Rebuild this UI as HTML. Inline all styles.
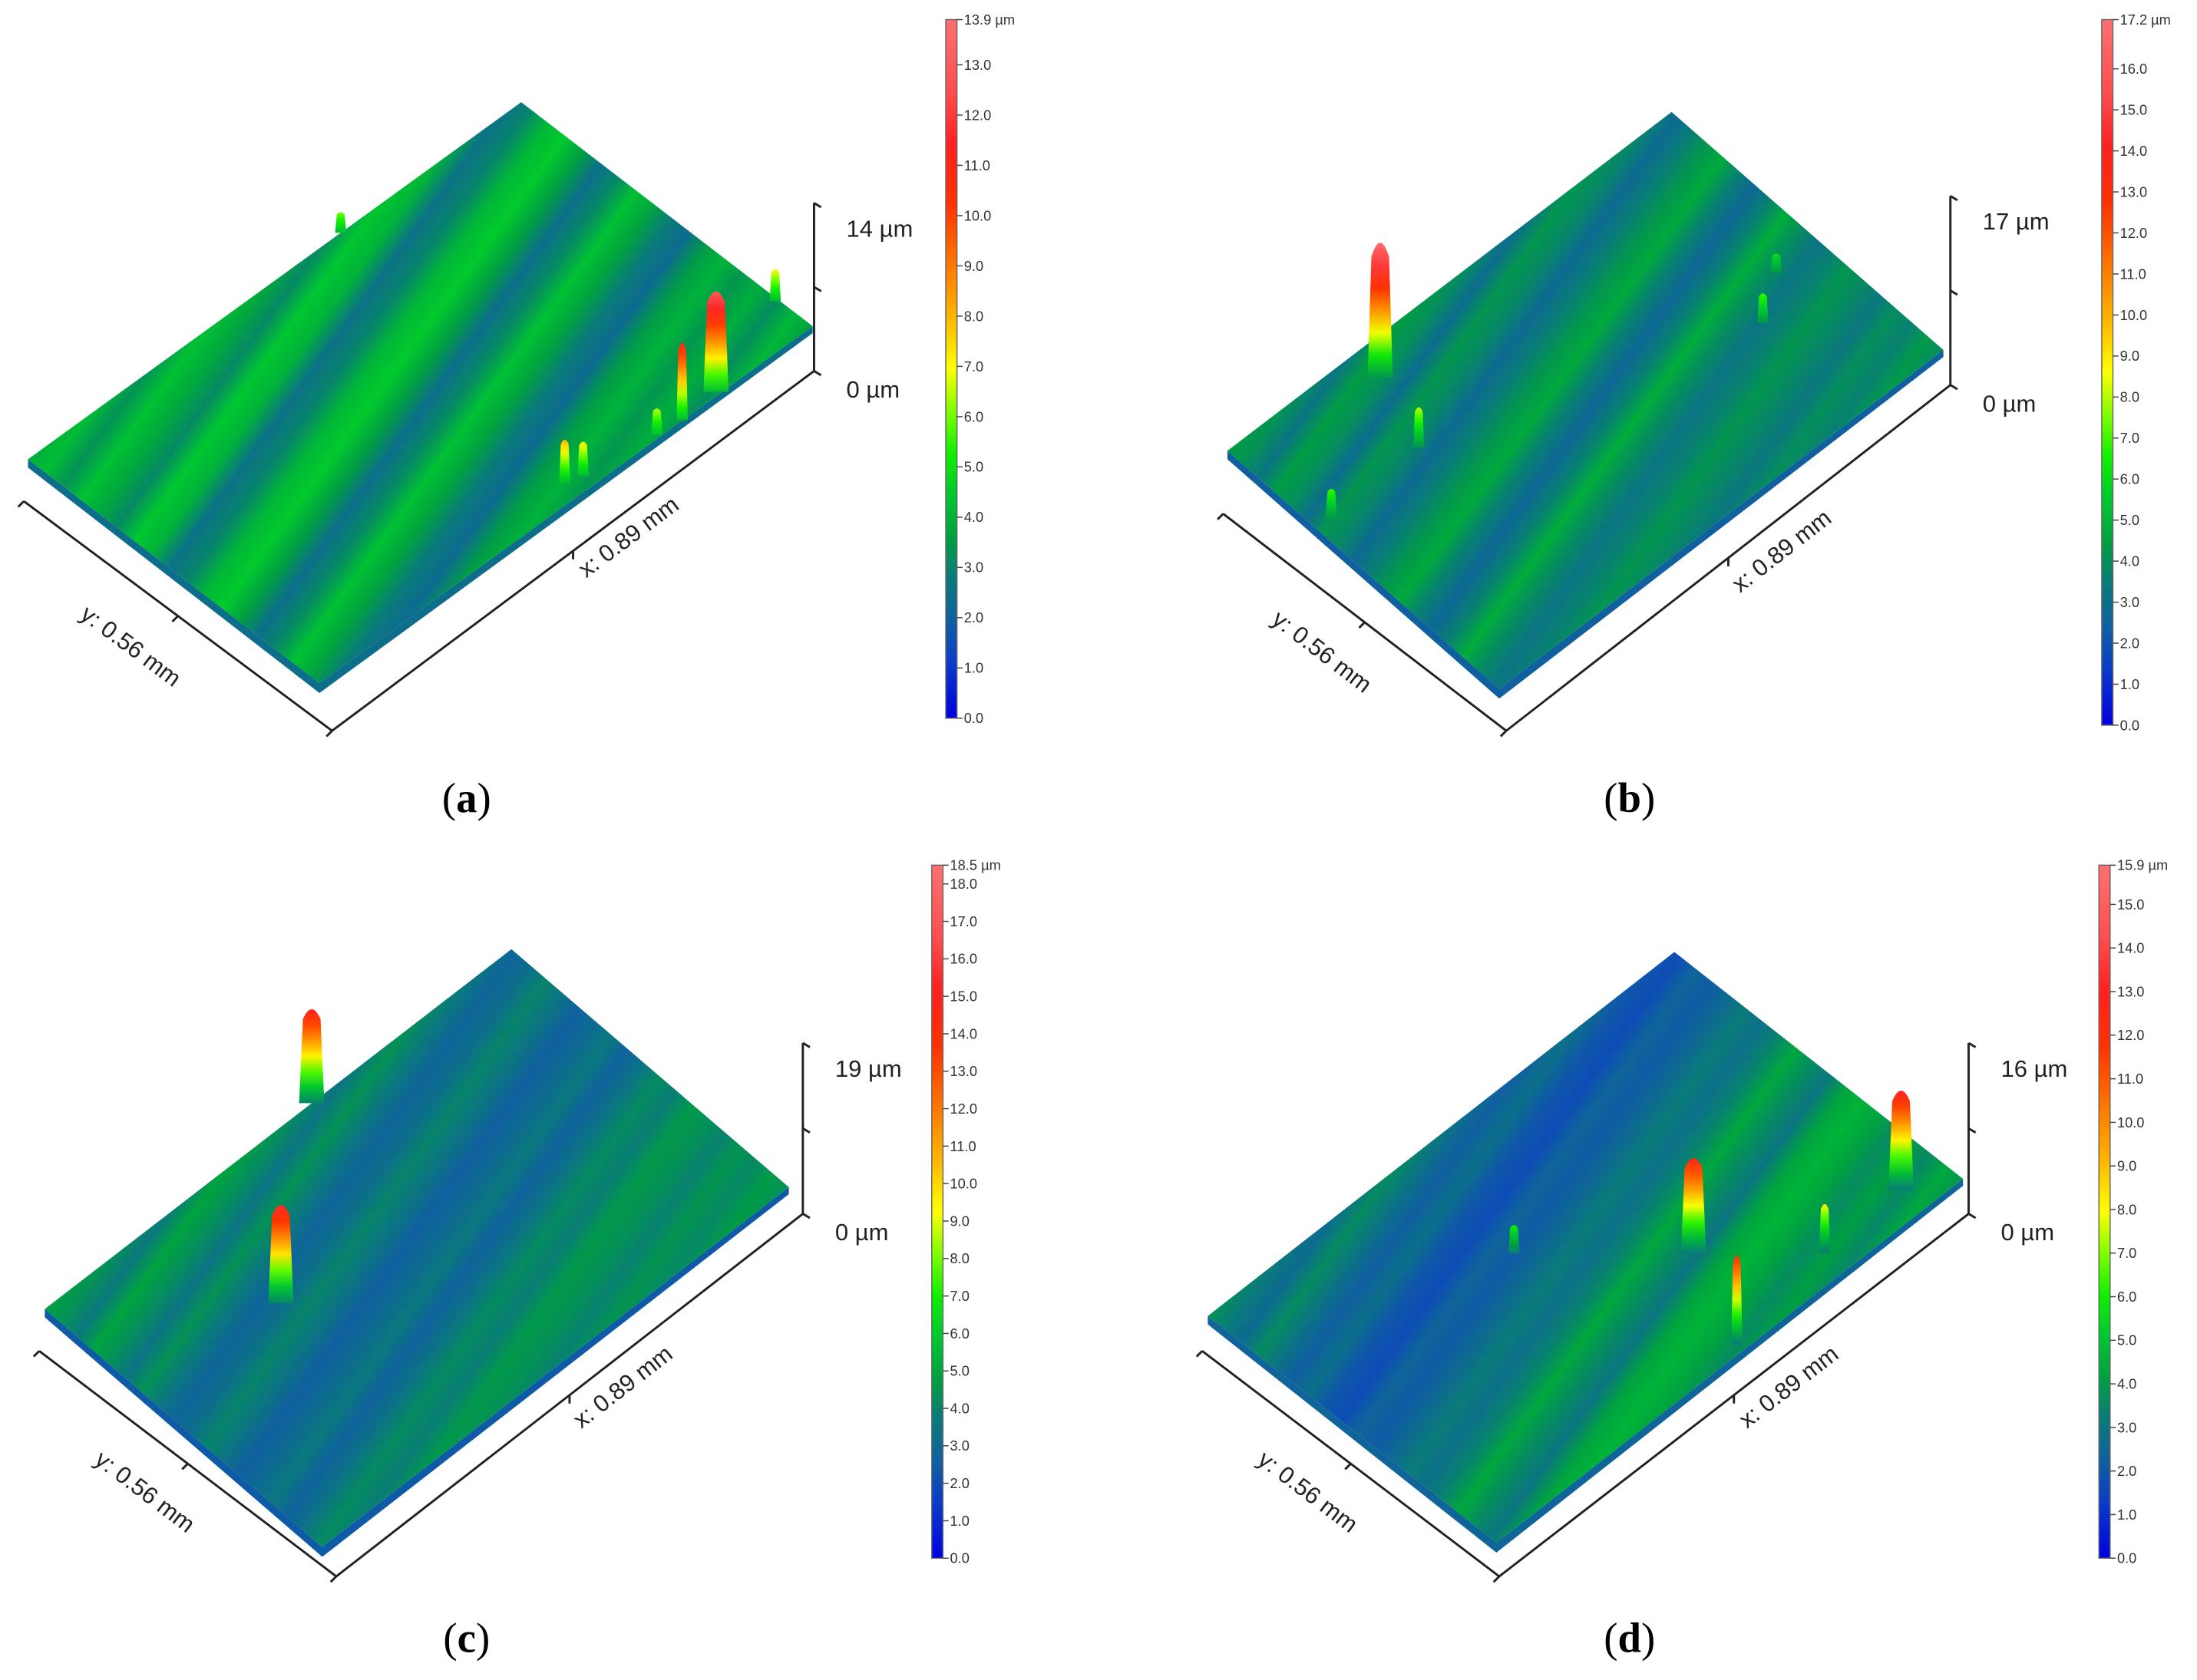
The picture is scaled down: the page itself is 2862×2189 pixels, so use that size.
<!DOCTYPE html>
<html><head><meta charset="utf-8"><style>
html,body{margin:0;padding:0;background:#fff;}
svg{display:block;}
text{font-family:"Liberation Sans",sans-serif;}
text.plabel{font-family:"Liberation Serif",serif;}
</style></head><body>
<svg id="fig" xmlns="http://www.w3.org/2000/svg" width="2862" height="2189" viewBox="0 0 1568 1200" preserveAspectRatio="none">
<defs id="defs"></defs>
</svg>
<script>
// ---- data ----
const panelLetters = ["a","b","c","d"];
const colorbarMax = [13.9, 17.2, 18.5, 15.9];
const zAxisMaxLabels = ["14 µm","17 µm","19 µm","16 µm"];
const zAxisMaxValues = [14, 17, 19, 16];
const tickValuesA = [0,1,2,3,4,5,6,7,8,9,10,11,12,13];
const tickValuesB = [0,1,2,3,4,5,6,7,8,9,10,11,12,13,14,15,16];
const tickValuesC = [0,1,2,3,4,5,6,7,8,9,10,11,12,13,14,15,16,17,18];
const tickValuesD = [0,1,2,3,4,5,6,7,8,9,10,11,12,13,14,15];
// stripe heights (µm) across the surface, perpendicular to grooves
const stripesA = [3.9,4.2,3.3,4.3,3.8,3.1,4.4,4.0,2.5,3.0,4.1,4.5,3.6,2.4,3.1,4.3,3.7,2.8,2.3,3.5,4.0,3.4,3.9,3.2,4.1,3.6];
const stripesB = [4.4,4.1,3.2,4.4,4.0,2.9,4.2,3.8,2.8,3.5,4.2,4.7,3.6,2.7,3.6,4.8,3.9,3.2,3.6,4.2,3.8,3.3,4.0,3.6,4.3,3.9];
const stripesC = [4.8,4.4,3.6,4.9,4.3,3.4,4.4,3.6,2.8,3.2,4.0,3.4,2.6,3.0,3.6,2.7,3.4,4.2,3.8,4.6,4.4,3.9,4.5,4.1,4.7,4.3];
const stripesD = [3.8,3.2,2.6,3.6,2.9,2.2,2.8,2.0,1.7,2.4,2.1,2.6,3.2,2.8,3.4,4.3,3.6,3.0,4.2,4.6,4.2,3.6,4.1,3.5,4.3,3.9];
// peaks: [u (along x), v (along y), peak height µm]
const peaksA = [[0.528,0.948,8],[0.557,0.962,7.2],[0.736,0.999,11],[0.81,0.99,13],[0.69,0.99,6.5],[0.995,0.88,7],[0.634,0.0,6]];
const peaksB = [[0.284,0.098,17],[0.235,0.32,8],[0.032,0.33,7],[0.82,0.63,7],[0.905,0.54,6]];
const peaksC = [[0.572,0.0,15],[0.274,0.39,15.5]];
const peaksD = [[0.608,0.70,12.6],[0.53,0.976,12],[0.918,0.918,13],[0.75,0.925,8],[0.415,0.39,6]];
const baseLevel = [4.2, 4.2, 4.0, 3.2];

// ---- layout (positions, not data) ----
const layout = [
 {L:[20,328],T:[372,73],B:[228,488], ax0:[17,358], ax1:[237,522], zx:581, zTop:145, zBot:265, cbx:675, cbTop:14, cbBot:513, lab:[333,570], ylab:[90,466], xlab:[452,388]},
 {L:[876,322],T:[1193,80],B:[1070,492], ax0:[873,367], ax1:[1075,522], zx:1392, zTop:140, zBot:275, cbx:1500, cbTop:14, cbBot:518, lab:[1163,570], ylab:[940,470], xlab:[1275,398]},
 {L:[32,935],T:[365,678],B:[230,1105], ax0:[28,965], ax1:[240,1126], zx:573, zTop:745, zBot:867, cbx:665, cbTop:618, cbBot:1113, lab:[333,1170], ylab:[100,1070], xlab:[448,995]},
 {L:[862,940],T:[1195,680],B:[1068,1102], ax0:[858,965], ax1:[1070,1126], zx:1405, zTop:745, zBot:867, cbx:1498, cbTop:618, cbBot:1113, lab:[1163,1170], ylab:[930,1070], xlab:[1280,995]}
];
const tickSets=[tickValuesA,tickValuesB,tickValuesC,tickValuesD];
const stripeSets=[stripesA,stripesB,stripesC,stripesD];
const peakSets=[peaksA,peaksB,peaksC,peaksD];

const cmapStops=[[0,"#0000e0"],[0.08,"#0a3cc8"],[0.14,"#1060a0"],[0.2,"#0a7a7a"],[0.26,"#00a040"],[0.32,"#00c830"],[0.38,"#10f000"],[0.44,"#80ff00"],[0.5,"#ffff00"],[0.58,"#ffb000"],[0.66,"#ff7000"],[0.74,"#ff3000"],[0.82,"#ff2020"],[0.9,"#ff5050"],[1,"#ff7070"]];
function hex(c){return [parseInt(c.substr(1,2),16),parseInt(c.substr(3,2),16),parseInt(c.substr(5,2),16)];}
function cmap(f){f=Math.max(0,Math.min(1,f));for(let i=1;i<cmapStops.length;i++){if(f<=cmapStops[i][0]){const a=cmapStops[i-1],b=cmapStops[i];const t=(f-a[0])/(b[0]-a[0]);const ca=hex(a[1]),cb=hex(b[1]);return "rgb("+ca.map((v,k)=>Math.round(v+(cb[k]-v)*t)).join(",")+")";}}return cmapStops[cmapStops.length-1][1];}

const NS="http://www.w3.org/2000/svg";
const svg=document.getElementById("fig");
const defs=document.getElementById("defs");
function mk(tag,attrs,parent){const e=document.createElementNS(NS,tag);for(const k in attrs)e.setAttribute(k,attrs[k]);(parent||svg).appendChild(e);return e;}

layout.forEach((g,p)=>{
 const max=colorbarMax[p];
 const grp=mk("g",{});
 
 
 const L=g.L,T=g.T,B=g.B,R=[T[0]+B[0]-L[0],T[1]+B[1]-L[1]];
 const map=(u,v)=>[L[0]+u*(T[0]-L[0])+v*(B[0]-L[0]), L[1]+u*(T[1]-L[1])+v*(B[1]-L[1])];
 const dir=[0.809,0.588];
 const proj=(P)=>(P[0]-L[0])*dir[0]+(P[1]-L[1])*dir[1];
 const lo=Math.min(0,proj(T),proj(B),proj(R)), hi=Math.max(proj(T),proj(B),proj(R));
 const gid="sg"+p;
 const lg=mk("linearGradient",{id:gid,gradientUnits:"userSpaceOnUse",x1:L[0]+lo*dir[0],y1:L[1]+lo*dir[1],x2:L[0]+hi*dir[0],y2:L[1]+hi*dir[1]},defs);
 const st=stripeSets[p];
 st.forEach((h,i)=>mk("stop",{offset:(i/(st.length-1)).toFixed(4),"stop-color":cmap(h/max)},lg));
 const wall=mk("polygon",{points:[L,B,R,[R[0],R[1]+5],[B[0],B[1]+7],[L[0],L[1]+6]].map(q=>q.join(",")).join(" "),fill:cmap(2.4/max)},grp);
 
 
 const surf=mk("polygon",{points:[L,T,R,B].map(q=>q.join(",")).join(" "),fill:"url(#"+gid+")"},grp);
 
 
 const zs=(g.zBot-g.zTop)/zAxisMaxValues[p];
 peakSets[p].forEach((pk,i)=>{
  const b=map(pk[0],pk[1]);
  const hpx=Math.max(0,(pk[2]-baseLevel[p])*zs);
  const w=pk[2]>12?9:4;
  const pid="pg"+p+"_"+i;
  const pg=mk("linearGradient",{id:pid,x1:0,y1:1,x2:0,y2:0},defs);
  for(let k=0;k<=6;k++){const lev=baseLevel[p]+(pk[2]-baseLevel[p])*k/6;mk("stop",{offset:(k/6).toFixed(3),"stop-color":cmap(lev/max)},pg);}
  const poly=mk("path",{d:`M${b[0]-w},${b[1]} L${b[0]-w*0.7},${b[1]-hpx*0.85} Q${b[0]},${b[1]-hpx*1.05} ${b[0]+w*0.7},${b[1]-hpx*0.85} L${b[0]+w},${b[1]} Z`,fill:"url(#"+pid+")"},grp);
  
  
 });
 const ax=mk("g",{stroke:"#222","stroke-width":1.6,fill:"none"},grp);
 
 
 const a0=g.ax0,a1=g.ax1,a2=[g.zx,g.zBot];
 mk("polyline",{points:[a0,a1,a2].map(q=>q.join(",")).join(" ")},ax);
 mk("line",{x1:g.zx,y1:g.zBot,x2:g.zx,y2:g.zTop},ax);
 [g.zTop,(g.zTop+g.zBot)/2,g.zBot].forEach(y=>mk("line",{x1:g.zx,y1:y,x2:g.zx+5,y2:y+3},ax));
 mk("line",{x1:a0[0],y1:a0[1],x2:a0[0]-4,y2:a0[1]+4},ax);
 const m1=[(a0[0]+a1[0])/2,(a0[1]+a1[1])/2];mk("line",{x1:m1[0],y1:m1[1],x2:m1[0]-4,y2:m1[1]+4},ax);
 mk("line",{x1:a1[0],y1:a1[1],x2:a1[0]-4,y2:a1[1]+4},ax);
 const m2=[(a1[0]+a2[0])/2,(a1[1]+a2[1])/2];mk("line",{x1:m2[0],y1:m2[1],x2:m2[0],y2:m2[1]+6},ax);
 const ang1=Math.atan2(a1[1]-a0[1],a1[0]-a0[0])*180/Math.PI;
 const ang2=Math.atan2(a2[1]-a1[1],a2[0]-a1[0])*180/Math.PI;
 const yl=mk("text",{x:g.ylab[0],y:g.ylab[1],"font-size":17,"text-anchor":"middle",fill:"#222",transform:`rotate(${ang1} ${g.ylab[0]} ${g.ylab[1]})`},grp);yl.textContent="y: 0.56 mm";
 
 const xl=mk("text",{x:g.xlab[0],y:g.xlab[1],"font-size":17,"text-anchor":"middle",fill:"#222",transform:`rotate(${ang2} ${g.xlab[0]} ${g.xlab[1]})`},grp);xl.textContent="x: 0.89 mm";
 
 const zt=mk("text",{x:g.zx+23,y:g.zTop+24,"font-size":17,fill:"#222"},grp);zt.textContent=zAxisMaxLabels[p];
 
 const zb=mk("text",{x:g.zx+23,y:g.zBot+19,"font-size":17,fill:"#222"},grp);zb.textContent="0 µm";
 
 const cid="cb"+p;
 const cg=mk("linearGradient",{id:cid,x1:0,y1:1,x2:0,y2:0},defs);
 cmapStops.forEach(s=>mk("stop",{offset:s[0],"stop-color":s[1]},cg));
 const cb=mk("rect",{x:g.cbx,y:g.cbTop,width:8,height:g.cbBot-g.cbTop,fill:"url(#"+cid+")",stroke:"#666","stroke-width":0.8},grp);
 
 const cy=v=>g.cbBot-v/max*(g.cbBot-g.cbTop);
 tickSets[p].forEach(v=>{
  mk("line",{x1:g.cbx+8,y1:cy(v),x2:g.cbx+12,y2:cy(v),stroke:"#444","stroke-width":0.8},grp);
  const t=mk("text",{x:g.cbx+13,y:cy(v)+3.5,"font-size":10,fill:"#333"},grp);t.textContent=v.toFixed(1);
  
 });
 mk("line",{x1:g.cbx+8,y1:g.cbTop,x2:g.cbx+12,y2:g.cbTop,stroke:"#444","stroke-width":0.8},grp);
 const tm=mk("text",{x:g.cbx+13,y:g.cbTop+3.5,"font-size":10,fill:"#333"},grp);tm.textContent=max.toFixed(1)+" µm";
 
 const pl=mk("text",{x:g.lab[0],y:g.lab[1]+10,"font-size":30,"text-anchor":"middle",fill:"#000","class":"plabel"},grp);
 pl.innerHTML='(<tspan font-weight="bold">'+panelLetters[p]+'</tspan>)';
 
});
</script>
</body></html>
